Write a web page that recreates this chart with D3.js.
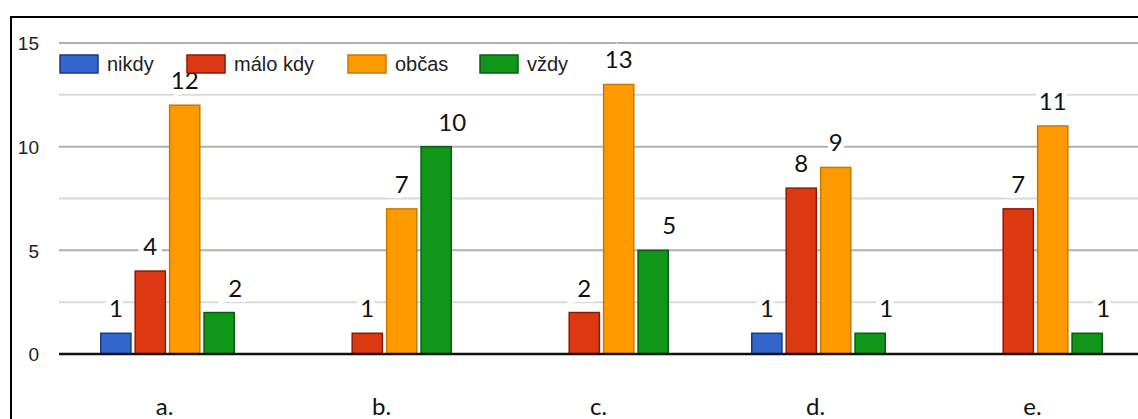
<!DOCTYPE html>
<html>
<head>
<meta charset="utf-8">
<script src="https://cdn.jsdelivr.net/npm/d3@7"></script>
<style>
  html, body { margin: 0; padding: 0; background: #fff; }
  svg { display: block; }
</style>
</head>
<body>
<svg id="chart" width="1138" height="419"></svg>
<script>
// Answers per question, grouped by frequency
const categories = ["a.", "b.", "c.", "d.", "e."];
const seriesNames = ["nikdy", "málo kdy", "občas", "vždy"];
const nikdy   = [1, 0, 0, 1, 0];
const maloKdy = [4, 1, 2, 8, 7];
const obcas   = [12, 7, 13, 9, 11];
const vzdy    = [2, 10, 5, 1, 1];
const yTicks = [0, 5, 10, 15];
const yGrid = [2.5, 5, 7.5, 10, 12.5, 15];

const colors = ["#3366cc", "#dc3912", "#ff9900", "#109618"];
const strokes = ["#1a3a80", "#8a1a05", "#c77a00", "#0b5c10"];
// value labels of the last series sit a little to the right of their bars
const labelShift = [0, 0, 0, 16];

const series = [nikdy, maloKdy, obcas, vzdy];

const svg = d3.select("#chart");
const W = 1138, H = 419;

// outer frame
svg.append("rect")
  .attr("x", 11).attr("y", 17)
  .attr("width", W + 10).attr("height", H)
  .attr("fill", "none").attr("stroke", "#000").attr("stroke-width", 2);

const plotLeft = 59, plotRight = 1144;
const y = d3.scaleLinear().domain([0, 15]).range([354, 43]);
const x0 = d3.scaleBand().domain(categories).range([plotLeft, plotRight]).padding(0);
const groupW = 135;
const x1 = d3.scaleBand().domain(d3.range(seriesNames.length)).range([0, groupW]).paddingInner(0.08);

// gridlines
svg.append("g").selectAll("line")
  .data(yGrid)
  .join("line")
  .attr("x1", plotLeft).attr("x2", W)
  .attr("y1", d => y(d)).attr("y2", d => y(d))
  .attr("stroke", d => d % 5 === 0 ? "#b0b0b0" : "#dadada")
  .attr("stroke-width", 2);

// y axis labels
const yAxis = d3.axisLeft(y).tickValues(yTicks).tickSize(0).tickPadding(0);
const ya = svg.append("g").attr("transform", "translate(39,0)").call(yAxis);
ya.select(".domain").remove();
ya.selectAll("text")
  .style("font-family", "'Liberation Sans', Arial, sans-serif")
  .style("font-size", "19px")
  .attr("fill", "#222")
  .attr("dy", "0.36em");

// bars
const flat = [];
categories.forEach((c, i) => {
  series.forEach((s, j) => flat.push({ cat: c, idx: j, value: s[i] }));
});
const gx = c => x0(c) + (x0.bandwidth() - groupW) / 2;

svg.append("g").selectAll("rect")
  .data(flat.filter(d => d.value > 0))
  .join("rect")
  .attr("x", d => gx(d.cat) + x1(d.idx) + 0.75)
  .attr("y", d => y(d.value))
  .attr("width", x1.bandwidth() - 1.5)
  .attr("height", d => y(0) - y(d.value))
  .attr("fill", d => colors[d.idx])
  .attr("stroke", d => strokes[d.idx])
  .attr("stroke-width", 1.5);

// zero line
svg.append("line")
  .attr("x1", plotLeft).attr("x2", W)
  .attr("y1", y(0)).attr("y2", y(0))
  .attr("stroke", "#111").attr("stroke-width", 2.5);

// value labels
svg.append("g").selectAll("text")
  .data(flat.filter(d => d.value > 0))
  .join("text")
  .attr("x", d => gx(d.cat) + x1(d.idx) + x1.bandwidth() / 2 + labelShift[d.idx])
  .attr("y", d => y(d.value) - 16)
  .attr("text-anchor", "middle")
  .style("font-family", "Lato, 'Open Sans', sans-serif")
  .style("font-size", "24px")
  .attr("fill", "#111")
  .attr("stroke", "#fff").attr("stroke-width", 10)
  .attr("paint-order", "stroke")
  .text(d => d.value);

// category labels
const xAxis = d3.axisBottom(x0).tickSize(0).tickPadding(0);
const xa = svg.append("g").attr("transform", "translate(-3,0)").call(xAxis);
xa.select(".domain").remove();
xa.selectAll("text")
  .attr("y", 415)
  .attr("dy", 0)
  .style("font-family", "Lato, 'Open Sans', sans-serif")
  .style("font-size", "24px")
  .attr("fill", "#111");

// legend
const legendX = [60, 187, 348, 480];
const lg = svg.append("g");
seriesNames.forEach((name, i) => {
  const g = lg.append("g").attr("transform", `translate(${legendX[i]},55)`);
  g.append("rect").attr("x", 0).attr("y", 0).attr("width", 38).attr("height", 18)
    .attr("fill", colors[i]).attr("stroke", strokes[i]).attr("stroke-width", 1.5);
  g.append("text").attr("x", 47).attr("y", 16)
    .style("font-family", "'Liberation Sans', Arial, sans-serif")
    .style("font-size", "20px").attr("fill", "#222")
    .text(name);
});
</script>
</body>
</html>
